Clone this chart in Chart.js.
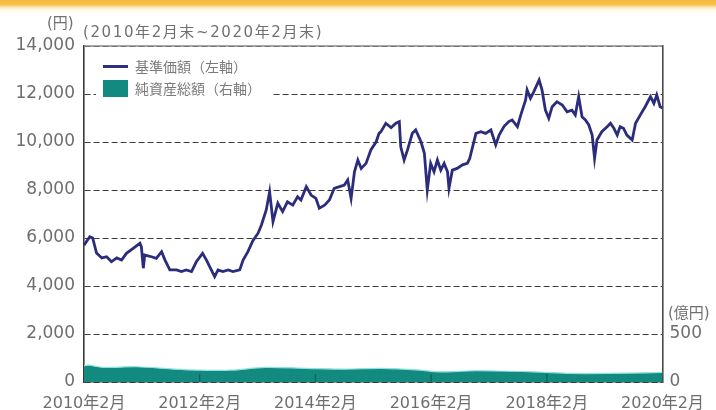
<!DOCTYPE html>
<html>
<head>
<meta charset="utf-8">
<script src="https://cdn.jsdelivr.net/npm/chart.js@4/dist/chart.umd.min.js"></script>
<style>
  html, body { margin: 0; padding: 0; background: #fff; }
  #wrap { position: relative; width: 716px; height: 410px; overflow: hidden; }
  #band { position: absolute; left: 0; top: 0; width: 716px; height: 14px;
    background: linear-gradient(to bottom, #f5b83c 0px, #f7c250 5px, #fde7b5 7px, #fff8ea 10px, #ffffff 14px); }
  canvas { position: absolute; left: 0; top: 0; }
  .t { position: absolute; font-family: "DejaVu Sans", "Noto Sans CJK JP", sans-serif; color: #707070; white-space: nowrap; line-height: 16px; }
  #legend { position: absolute; left: 96px; top: 55px; width: 176px; height: 45px; background: #fff; }
</style>
</head>
<body>
<div id="wrap">
  <div id="band"></div>
  <canvas id="c" width="716" height="410"></canvas>
  <div class="t" style="left:47px; top:15px; font-size:15px;">(円)</div>
  <div class="t" style="left:83px; top:24px; font-size:15px; letter-spacing:1.6px;">(2010年2月末~2020年2月末)</div>
  <div class="t" style="left:668px; top:305px; font-size:15px;">(億円)</div>
  <div id="legend">
    <div style="position:absolute; left:7px; top:10px; width:25px; height:3px; background:#2d2f7f;"></div>
    <div class="t" style="left:39px; top:3px; font-size:14px; color:#7a7a7a; font-family:'Noto Sans CJK JP',sans-serif;">基準価額（左軸）</div>
    <div style="position:absolute; left:7px; top:25px; width:25px; height:17px; background:#138a7f;"></div>
    <div class="t" style="left:39px; top:25px; font-size:14px; color:#7a7a7a; font-family:'Noto Sans CJK JP',sans-serif;">純資産総額（右軸）</div>
  </div>
</div>
<script>
// Months elapsed since 2010年2月末, and 基準価額 (円)
const navMonths = [0,1.2,1.8,2.6,3.7,4.7,5.7,6.8,7.8,8.8,10.2,11.6,11.9,12.3,12.6,14.0,15.0,16.1,16.8,17.8,19.2,20.2,21.2,22.3,23.3,24.6,25.4,26.4,27.1,27.8,28.8,29.9,30.9,32.3,33.0,34.0,35.0,36.1,36.8,37.8,38.5,39.2,40.2,41.2,42.2,43.3,44.3,45.0,46.1,47.1,48.1,48.8,49.9,50.9,51.9,53.0,54.0,54.7,55.4,56.1,56.8,57.5,58.5,59.5,60.6,61.2,61.6,62.6,63.7,64.7,65.4,65.7,66.4,67.1,68.1,68.8,69.9,70.6,71.2,71.9,72.6,73.3,74.0,74.7,75.4,75.7,76.4,77.4,78.5,79.5,80.0,80.6,81.3,82.3,83.3,84.4,85.4,86.1,87.1,88.1,88.8,89.9,90.6,91.6,91.9,92.6,93.3,94.4,95.0,95.7,96.4,97.1,98.1,99.2,100.2,101.2,101.9,102.6,103.3,104.0,104.7,105.4,105.9,106.4,107.4,108.5,109.2,109.9,110.6,111.2,111.9,112.6,113.7,114.4,115.4,116.4,117.5,118.2,118.8,119.5,120];
const navValues = [5700,6050,6000,5370,5170,5220,5010,5170,5080,5360,5570,5780,5640,4740,5290,5220,5150,5430,5080,4670,4670,4600,4670,4600,5010,5360,5080,4670,4390,4670,4600,4670,4600,4670,5080,5430,5880,6200,6540,7170,7930,6680,7450,7100,7510,7370,7720,7580,8140,7790,7650,7240,7370,7580,8070,8140,8210,8420,7650,8760,9250,8900,9110,9670,10010,10360,10430,10780,10600,10780,10850,9800,9250,9670,10360,10500,10010,9530,8000,9110,8760,9250,8830,9110,8760,8070,8830,8900,9050,9110,9310,9800,10360,10430,10360,10500,9880,10290,10640,10850,10920,10640,11130,11750,12170,11820,12100,12580,12170,11330,10990,11470,11680,11540,11260,11330,11130,11890,11050,10920,10710,10290,9320,10080,10430,10640,10780,10570,10290,10640,10570,10290,10080,10780,11130,11470,11890,11610,11960,11470,11420];
// 純資産総額 (億円)
const aumMonths = [0,1,3.9,10.9,18.7,23.4,30.5,37.5,46.1,53.9,61.8,69.6,73.5,81.3,93.1,100.9,108.7,116.6,120];
const aumValues = [170,175,152,159,134,124,124,152,142,134,142,124,106,117,106,89,89,96,100];
// axis ticks
const xTickMonths = [0,24,48,72,96,120];
const xTickLabels = ['2010年2月','2012年2月','2014年2月','2016年2月','2018年2月','2020年2月'];
const leftTicks = [0,2000,4000,6000,8000,10000,12000,14000];
const rightTicks = [0,500];

const FONT = '"DejaVu Sans", "Noto Sans CJK JP", sans-serif';
Chart.defaults.font.family = FONT;
Chart.defaults.color = '#707070';

const frame = {
  id: 'frame',
  beforeDatasetsDraw(chart) {
    const {ctx, chartArea: a} = chart;
    ctx.save();
    ctx.strokeStyle = '#8a8a8a';
    ctx.lineWidth = 1.5;
    ctx.beginPath(); ctx.moveTo(a.left, a.top); ctx.lineTo(a.right, a.top); ctx.stroke();
    ctx.restore();
  },
  afterDatasetsDraw(chart) {
    const {ctx, scales} = chart;
    ctx.save();
    ctx.strokeStyle = '#0b5f57';
    ctx.lineWidth = 1.2;
    const y0 = scales.y2.getPixelForValue(0);
    const y1 = scales.y2.getPixelForValue(80);
    xTickMonths.slice(1, -1).forEach(m => {
      const x = scales.x.getPixelForValue(m);
      ctx.beginPath(); ctx.moveTo(x, y0); ctx.lineTo(x, y1); ctx.stroke();
    });
    ctx.restore();
  }
};

new Chart(document.getElementById('c'), {
  type: 'line',
  data: {
    datasets: [
      {
        label: '基準価額(左軸)',
        data: navMonths.map((m, i) => ({x: m, y: navValues[i]})),
        yAxisID: 'y',
        borderColor: '#2b2d7c',
        borderWidth: 2.8,
        pointRadius: 0,
        tension: 0,
        fill: false
      },
      {
        label: '純資産総額(右軸)',
        data: aumMonths.map((m, i) => ({x: m, y: aumValues[i]})),
        yAxisID: 'y2',
        borderColor: '#8fe3dc',
        borderWidth: 1.2,
        backgroundColor: '#138a7f',
        pointRadius: 0,
        tension: 0.3,
        fill: 'origin'
      }
    ]
  },
  options: {
    responsive: false,
    animation: false,
    layout: { padding: { top: 46, left: 0, right: 0, bottom: 0 } },
    plugins: { legend: { display: false }, tooltip: { enabled: false } },
    scales: {
      x: {
        type: 'linear', min: 0, max: 120,
        afterBuildTicks: s => { s.ticks = xTickMonths.map(v => ({value: v})); },
        ticks: {
          callback: (v) => xTickLabels[xTickMonths.indexOf(v)],
          font: { size: 16 }, color: '#6e6e6e', padding: 12, maxRotation: 0, minRotation: 0, autoSkip: false
        },
        grid: { display: false, drawTicks: false },
        border: { display: true, color: '#3a3a3a', width: 1.6 },
        afterFit: s => { s.height = 28; }
      },
      y: {
        position: 'left', min: 0, max: 14000,
        afterBuildTicks: s => { s.ticks = leftTicks.map(v => ({value: v})); },
        ticks: {
          callback: v => v.toLocaleString('en-US'),
          font: { size: 17 }, color: '#6e6e6e', padding: 9
        },
        grid: { color: '#3c3c3c', lineWidth: 1, drawTicks: false },
        border: { display: true, color: '#3a3a3a', width: 1.6, dash: [6, 3] },
        afterFit: s => { s.width = 84; }
      },
      y2: {
        position: 'right', min: 0, max: 3500,
        afterBuildTicks: s => { s.ticks = rightTicks.map(v => ({value: v})); },
        ticks: {
          callback: v => String(v),
          font: { size: 17 }, color: '#6e6e6e', padding: 7
        },
        grid: { display: false, drawTicks: false },
        border: { display: true, color: '#4a4a4a', width: 1.6 },
        afterFit: s => { s.width = 53; }
      }
    }
  },
  plugins: [frame]
});
</script>
</body>
</html>
